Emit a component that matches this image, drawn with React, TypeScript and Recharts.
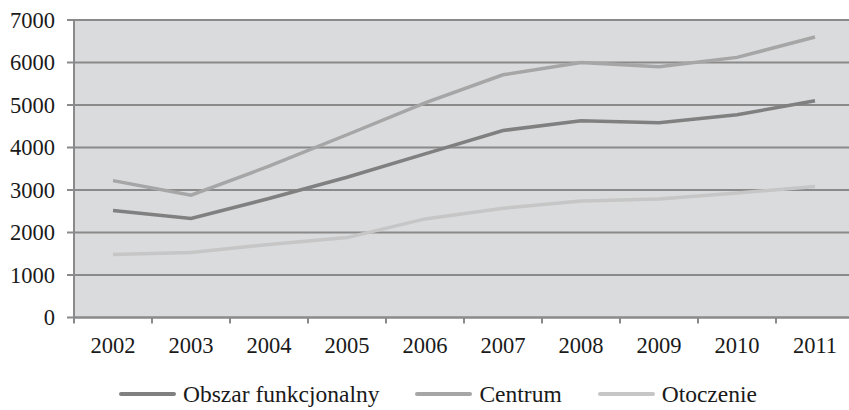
import React from 'react';
import { LineChart, Line, XAxis, YAxis, CartesianGrid, Legend } from 'recharts';

const years = ['2002', '2003', '2004', '2005', '2006', '2007', '2008', '2009', '2010', '2011'];
const obszar = [2520, 2330, 2800, 3300, 3850, 4400, 4630, 4580, 4770, 5100];
const centrum = [3220, 2880, 3560, 4300, 5050, 5710, 6000, 5900, 6120, 6600];
const otoczenie = [1480, 1530, 1720, 1880, 2320, 2570, 2740, 2790, 2930, 3080];
const yTicks = [0, 1000, 2000, 3000, 4000, 5000, 6000, 7000];

const seriesNames = ['Obszar funkcjonalny', 'Centrum', 'Otoczenie'];
const seriesColors = ['#808080', '#a6a6a6', '#c6c6c6'];

const data = years.map((y, i) => ({
  year: y,
  s0: obszar[i],
  s1: centrum[i],
  s2: otoczenie[i],
}));

const FONT = "'Liberation Serif', 'Times New Roman', serif";
const AXIS_GRAY = '#8a8a8a';

const XTick = (props: any) => {
  const { x, y, payload } = props;
  const off = payload && typeof payload.offset === 'number' ? payload.offset : 0;
  return (
    <g>
      <line x1={x - off} x2={x - off} y1={y - 20} y2={y - 14} stroke={AXIS_GRAY} strokeWidth={2} />
      <text x={x} y={y} dy="0.71em" textAnchor="middle" fontFamily={FONT} fontSize={22.5} fill="#1a1a1a">
        {payload.value}
      </text>
    </g>
  );
};

const LegendContent = () => (
  <div
    style={{
      display: 'flex',
      justifyContent: 'flex-start',
      alignItems: 'center',
      paddingLeft: 119,
      fontFamily: FONT,
      fontSize: 23.5,
      lineHeight: '26px',
      height: 26,
      color: '#1a1a1a',
    }}
  >
    {seriesNames.map((n, i) => (
      <div key={n} style={{ display: 'flex', alignItems: 'center', marginRight: 36 }}>
        <svg width={57} height={6} style={{ marginRight: 7 }}>
          <line x1={2} x2={55} y1={3} y2={3} stroke={seriesColors[i]} strokeWidth={4} strokeLinecap="round" />
        </svg>
        <span>{n}</span>
      </div>
    ))}
  </div>
);

export default function App() {
  return (
    <div style={{ position: 'absolute', left: 0, top: 0 }}>
      <LineChart
        width={860}
        height={410}
        data={data}
        margin={{ top: 20, right: 6, left: 0, bottom: 16.5 }}
      >
        <CartesianGrid
          vertical={false}
          horizontal={true}
          fill="#dadbdd"
          stroke={AXIS_GRAY}
          strokeWidth={2}
          strokeDasharray=""
        />
        <XAxis
          dataKey="year"
          scale="band"
          tickLine={false}
          axisLine={{ stroke: AXIS_GRAY, strokeWidth: 2 }}
          tick={<XTick />}
          tickSize={6}
          tickMargin={14}
          height={50}
          interval={0}
        />
        <YAxis
          width={74}
          domain={[0, 7000]}
          ticks={yTicks}
          interval={0}
          tickSize={7}
          tickMargin={12}
          tickLine={{ stroke: AXIS_GRAY, strokeWidth: 2 }}
          axisLine={{ stroke: AXIS_GRAY, strokeWidth: 2 }}
          tick={{ fontFamily: FONT, fontSize: 22.5, fill: '#1a1a1a' }}
        />
        <Legend
          verticalAlign="bottom"
          content={<LegendContent />}
          wrapperStyle={{ top: 381, bottom: 'auto', left: 0, width: 860 }}
        />
        <Line dataKey="s2" name={seriesNames[2]} stroke={seriesColors[2]} strokeWidth={3.5} dot={false} isAnimationActive={false} />
        <Line dataKey="s1" name={seriesNames[1]} stroke={seriesColors[1]} strokeWidth={3.5} dot={false} isAnimationActive={false} />
        <Line dataKey="s0" name={seriesNames[0]} stroke={seriesColors[0]} strokeWidth={3.5} dot={false} isAnimationActive={false} />
      </LineChart>
    </div>
  );
}
